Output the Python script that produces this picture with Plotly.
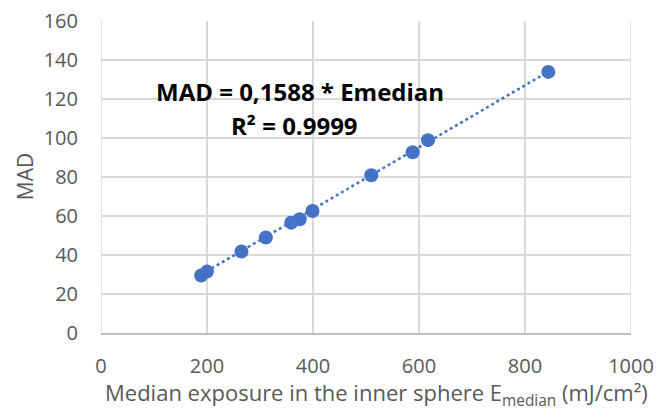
import plotly.graph_objects as go

# Data
e_median = [189, 200, 265, 311, 359, 375, 399, 510, 588, 617, 844]
mad = [29.5, 31.5, 41.8, 49.0, 56.6, 58.3, 62.6, 80.9, 92.7, 98.9, 133.9]
slope = 0.1588
x_ticks = [0, 200, 400, 600, 800, 1000]
y_ticks = [0, 20, 40, 60, 80, 100, 120, 140, 160]
eq_text = "MAD = 0,1588 * Emedian"
r2_text = "R² = 0.9999"
x_title = "Median exposure in the inner sphere E<sub>median</sub> (mJ/cm²)"
y_title = "MAD"

blue = "#4472C4"
grid = "#D9D9D9"
txt = "#595959"
font = "Open Sans"

trend_x = [min(e_median), max(e_median)]
trend_y = [slope * v for v in trend_x]

fig = go.Figure()
fig.add_trace(go.Scatter(x=trend_x, y=trend_y, mode="lines",
                         line=dict(color=blue, width=2.5, dash="dot"),
                         hoverinfo="skip", showlegend=False))
fig.add_trace(go.Scatter(x=e_median, y=mad, mode="markers",
                         marker=dict(color=blue, size=14),
                         showlegend=False))

fig.add_annotation(x=375, y=123.6, xref="x", yref="y", text=eq_text,
                   showarrow=False, xanchor="center", yanchor="middle",
                   font=dict(family=font, size=24, color="black", weight="bold"))
fig.add_annotation(x=366, y=106.6, xref="x", yref="y", text=r2_text,
                   showarrow=False, xanchor="center", yanchor="middle",
                   font=dict(family=font, size=24, color="black", weight="bold"))
fig.add_annotation(x=0.52, y=-0.197, xref="paper", yref="paper", text=x_title,
                   showarrow=False, xanchor="center", yanchor="middle",
                   font=dict(family=font, size=22, color=txt))
fig.add_annotation(x=-0.143, y=0.5, xref="paper", yref="paper", text=y_title,
                   showarrow=False, xanchor="center", yanchor="middle", textangle=-90,
                   font=dict(family=font, size=21, color=txt))

fig.update_layout(
    width=659, height=412,
    margin=dict(l=101, r=28, t=21, b=79, autoexpand=False),
    paper_bgcolor="white", plot_bgcolor="white",
    font=dict(family=font, size=20, color=txt),
    xaxis=dict(range=[0, 1000], tickvals=x_ticks, ticktext=[str(v) for v in x_ticks],
               showgrid=True, gridcolor=grid, gridwidth=1.5, zeroline=False,
               showline=True, linecolor="#BFBFBF", linewidth=1.5, mirror=False,
               ticks="", ticklabelstandoff=14, automargin=False),
    yaxis=dict(range=[0, 160], tickvals=y_ticks, ticktext=[str(v) for v in y_ticks],
               showgrid=True, gridcolor=grid, gridwidth=1.5, zeroline=False,
               showline=False, ticks="", ticklabelstandoff=22, automargin=False),
)
fig.add_shape(type="line", xref="x", yref="paper", x0=0, x1=0, y0=0, y1=1,
              line=dict(color=grid, width=1.5), layer="below")
fig.add_shape(type="line", xref="x", yref="paper", x0=1000, x1=1000, y0=0, y1=1,
              line=dict(color=grid, width=1.5), layer="below")

fig.write_html("out.html", config={"displayModeBar": False},
               post_script="document.body.style.margin='0';document.body.style.overflow='hidden';")
